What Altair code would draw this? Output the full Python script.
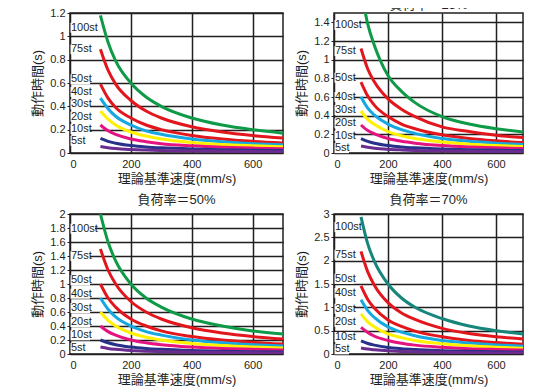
import altair as alt
import pandas as pd

FONT = "Liberation Sans, Noto Sans CJK JP, sans-serif"
LABFONT = "Liberation Sans Narrow, Liberation Sans, sans-serif"
INK = "#231f20"

speeds = [100, 125, 150, 200, 250, 300, 400, 500, 600, 700]
strokes = ["100st", "75st", "50st", "40st", "30st", "20st", "10st", "5st"]

titles = ["負荷率＝0%", "負荷率＝25%", "負荷率＝50%", "負荷率＝70%"]
ymax = [1.2, 1.5, 2.0, 3.0]
yticks = [
    [0, 0.2, 0.4, 0.6, 0.8, 1.0, 1.2],
    [0, 0.2, 0.4, 0.6, 0.8, 1.0, 1.2, 1.4],
    [0, 0.2, 0.4, 0.6, 0.8, 1.0, 1.2, 1.4, 1.6, 1.8, 2.0],
    [0, 0.5, 1.0, 1.5, 2.0, 2.5, 3.0],
]
xticks = [0, 200, 400, 600]
widths = [213, 189, 213, 189]

colors_a = ["#0f9a48", "#e2171e", "#e2171e", "#14a7e0", "#fff100", "#e4137f", "#283189", "#6a2c8f"]
colors_b = ["#16867a", "#e2171e", "#e2171e", "#14a7e0", "#fff100", "#e4137f", "#283189", "#6a2c8f"]
panel_colors = [colors_a, colors_a, colors_a, colors_b]

load0 = [
    [1.18, 0.95, 0.79, 0.60, 0.48, 0.40, 0.30, 0.24, 0.20, 0.17],
    [0.89, 0.71, 0.59, 0.45, 0.36, 0.30, 0.225, 0.18, 0.15, 0.128],
    [0.59, 0.47, 0.39, 0.30, 0.24, 0.20, 0.15, 0.12, 0.10, 0.086],
    [0.47, 0.38, 0.315, 0.24, 0.19, 0.16, 0.12, 0.096, 0.08, 0.07],
    [0.36, 0.29, 0.24, 0.18, 0.145, 0.12, 0.09, 0.073, 0.062, 0.053],
    [0.24, 0.19, 0.16, 0.12, 0.097, 0.08, 0.062, 0.05, 0.042, 0.036],
    [0.125, 0.10, 0.084, 0.064, 0.052, 0.044, 0.034, 0.028, 0.024, 0.021],
    [0.055, 0.045, 0.038, 0.03, 0.025, 0.021, 0.017, 0.014, 0.012, 0.011],
]
load25 = [
    [1.76, 1.38, 1.15, 0.83, 0.66, 0.54, 0.39, 0.31, 0.26, 0.225],
    [1.12, 0.90, 0.76, 0.58, 0.47, 0.39, 0.28, 0.23, 0.19, 0.165],
    [0.76, 0.61, 0.51, 0.39, 0.31, 0.26, 0.195, 0.155, 0.13, 0.112],
    [0.60, 0.48, 0.405, 0.31, 0.25, 0.21, 0.155, 0.125, 0.105, 0.09],
    [0.45, 0.36, 0.305, 0.23, 0.185, 0.155, 0.118, 0.095, 0.08, 0.07],
    [0.30, 0.24, 0.205, 0.155, 0.125, 0.105, 0.08, 0.065, 0.055, 0.048],
    [0.155, 0.125, 0.105, 0.08, 0.065, 0.055, 0.042, 0.034, 0.029, 0.026],
    [0.075, 0.062, 0.052, 0.04, 0.033, 0.028, 0.022, 0.018, 0.016, 0.014],
]
load50 = [
    [2.0, 1.6, 1.33, 1.0, 0.8, 0.67, 0.5, 0.4, 0.33, 0.285],
    [1.5, 1.2, 1.0, 0.75, 0.6, 0.5, 0.375, 0.3, 0.25, 0.215],
    [1.0, 0.8, 0.67, 0.5, 0.4, 0.33, 0.25, 0.2, 0.167, 0.143],
    [0.8, 0.64, 0.53, 0.4, 0.32, 0.27, 0.2, 0.16, 0.133, 0.114],
    [0.6, 0.48, 0.4, 0.3, 0.24, 0.2, 0.15, 0.12, 0.1, 0.086],
    [0.4, 0.32, 0.27, 0.2, 0.16, 0.133, 0.1, 0.08, 0.067, 0.057],
    [0.2, 0.16, 0.133, 0.1, 0.08, 0.067, 0.05, 0.04, 0.033, 0.029],
    [0.1, 0.08, 0.067, 0.05, 0.04, 0.033, 0.025, 0.02, 0.017, 0.014],
]
load70 = [
    [2.94, 2.36, 1.98, 1.5, 1.2, 1.0, 0.76, 0.6, 0.5, 0.43],
    [2.2, 1.76, 1.47, 1.1, 0.88, 0.74, 0.55, 0.44, 0.37, 0.32],
    [1.46, 1.17, 0.98, 0.73, 0.59, 0.49, 0.37, 0.29, 0.245, 0.21],
    [1.16, 0.93, 0.78, 0.58, 0.47, 0.39, 0.29, 0.235, 0.195, 0.168],
    [0.86, 0.69, 0.58, 0.43, 0.35, 0.29, 0.22, 0.175, 0.145, 0.125],
    [0.57, 0.46, 0.38, 0.29, 0.23, 0.19, 0.145, 0.115, 0.097, 0.083],
    [0.28, 0.225, 0.19, 0.14, 0.113, 0.095, 0.072, 0.058, 0.048, 0.041],
    [0.13, 0.105, 0.09, 0.068, 0.055, 0.046, 0.035, 0.028, 0.023, 0.02],
]
loads = [load0, load25, load50, load70]

# label positions (y in data units) for the stroke labels at the left of each panel
label_y = [
    [1.074, 0.889, 0.632, 0.524, 0.417, 0.312, 0.206, 0.105],
    [1.371, 1.093, 0.807, 0.600, 0.461, 0.318, 0.185, 0.052],
    [1.79, 1.40, 1.053, 0.861, 0.657, 0.457, 0.267, 0.086],
    [2.72, 2.13, 1.61, 1.31, 0.97, 0.686, 0.364, 0.10],
]


def box_shape(label):
    w = 5.0 * (len(label) - 2) + 9.5
    h = 10.0
    r = h / w
    return f"M-1,{-r:.3f}H1V{r:.3f}H-1Z", w * w, w / 2 + 0.5


def panel(i):
    rows = []
    for s, series, col in zip(strokes, loads[i], panel_colors[i]):
        for v, t in zip(speeds, series):
            rows.append({"v": v, "t": t, "st": s, "c": col})
    df = pd.DataFrame(rows)
    lab = pd.DataFrame({"v": [0] * len(strokes), "t": label_y[i], "st": strokes})
    boxes = [box_shape(s) for s in strokes]

    x = alt.X(
        "v:Q",
        scale=alt.Scale(domain=[0, 700], nice=False),
        axis=alt.Axis(values=xticks, title="理論基準速度(mm/s)"),
    )
    y = alt.Y(
        "t:Q",
        scale=alt.Scale(domain=[0, ymax[i]], nice=False),
        axis=alt.Axis(values=yticks[i], format="~g", title="動作時間(s)"),
    )
    lines = (
        alt.Chart(df)
        .mark_line(clip=True, strokeWidth=3, interpolate="monotone")
        .encode(x=x, y=y, color=alt.Color("c:N", scale=None), detail="st:N")
    )
    # white boxes behind the labels (one layer per label so each gets its own width)
    box_layers = []
    for k, s in enumerate(strokes):
        shp, sz, off = boxes[k]
        box_layers.append(
            alt.Chart(lab.iloc[[k]])
            .mark_point(filled=True, color="white", opacity=1, strokeWidth=0,
                        shape=shp, size=sz, xOffset=off)
            .encode(x=x, y=y)
        )
    text = (
        alt.Chart(lab)
        .mark_text(align="left", baseline="middle", dx=1, fontSize=11, font=LABFONT, color=INK)
        .encode(x=x, y=y, text="st:N")
    )
    return alt.layer(*box_layers, text, lines).properties(
        width=widths[i], height=140, title=titles[i]
    )


chart = (
    alt.vconcat(
        alt.hconcat(panel(0), panel(1), spacing=10),
        alt.hconcat(panel(2), panel(3), spacing=10),
        spacing=7,
    )
    .properties(padding={"left": 22, "top": -16, "right": 0, "bottom": 0})
    .configure_view(stroke=INK, strokeWidth=1.5)
    .configure_axis(
        labelFont=FONT, titleFont=FONT, labelFontSize=11, titleFontSize=13,
        labelColor=INK, titleColor=INK, titleFontWeight="normal",
        grid=True, gridColor=INK, gridWidth=1.5, gridOpacity=1,
        domain=False, tickColor=INK, tickSize=3, tickWidth=1,
    )
    .configure_axisX(ticks=False, labelPadding=5, titlePadding=3)
    .configure_axisY(labelPadding=2, titlePadding=5)
    .configure_title(font=FONT, fontSize=13, fontWeight="normal", color=INK, offset=1, anchor="middle")
)

chart.save("out.html", embed_options={"renderer": "svg", "actions": False})
